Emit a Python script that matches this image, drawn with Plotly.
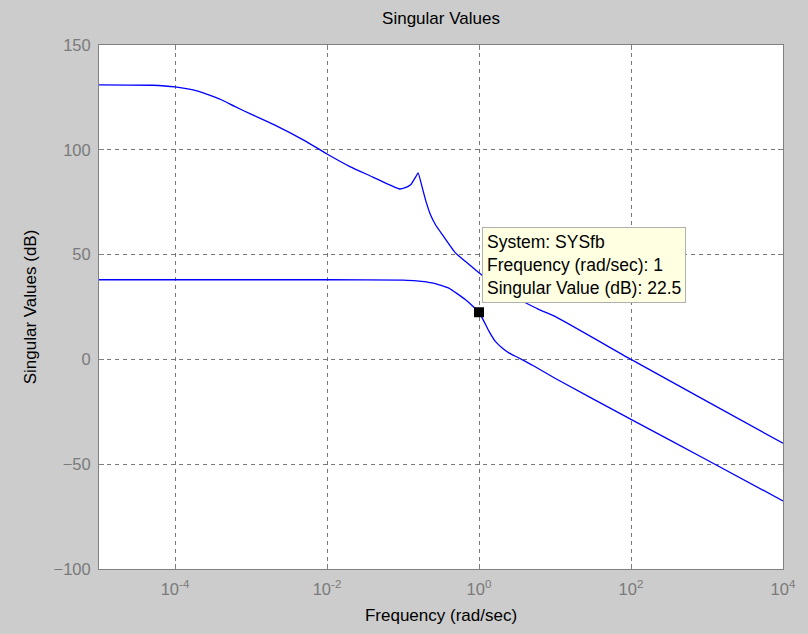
import plotly.graph_objects as go

# Singular values of SYSfb (frequency in rad/sec, magnitude in dB)
freq_upper = [1e-5, 5e-5, 1e-4, 2e-4, 4e-4, 6e-4, 1e-3, 2e-3, 5e-3, 1e-2, 2e-2,
              4e-2, 6e-2, 8e-2, 0.09, 0.105, 0.126, 0.148, 0.158, 0.18, 0.2,
              0.23, 0.27, 0.33, 0.49, 0.66, 1.0, 2.0, 6.0, 10.0, 100.0, 1000.0,
              10000.0]
sv_upper = [131, 130.8, 130, 128, 124, 120.8, 117, 112, 104.5, 98, 92,
            87, 84, 82, 81.3, 81.8, 83.3, 87.3, 89, 81.7, 75.5,
            69, 64, 59.5, 50.8, 46.8, 41.3, 33, 24, 20.5, 0, -20,
            -40]

freq_lower = [1e-5, 1e-3, 1e-2, 0.1, 0.15, 0.25, 0.4, 0.66, 1.0, 1.35, 1.63,
              2.0, 2.5, 3.3, 5.0, 10.0, 100.0, 1000.0, 10000.0]
sv_lower = [38, 38, 38, 37.8, 37.5, 36.4, 34, 28.6, 22.5, 13.5, 8.7,
            5.6, 3.0, 0.8, -2.7, -9, -28.6, -48, -67.5]

# Data tip
tip_freq = 1.0
tip_sv = 22.5

x_tickvals = [1e-4, 1e-2, 1e0, 1e2, 1e4]
x_ticktext = ["10<sup>-4</sup>", "10<sup>-2</sup>", "10<sup>0</sup>",
              "10<sup>2</sup>", "10<sup>4</sup>"]
y_tickvals = [-100, -50, 0, 50, 100, 150]

FONT = "Liberation Sans, Arial, sans-serif"
line_color = "#0000ff"
axis_gray = "#808080"

fig = go.Figure()
fig.add_trace(go.Scatter(x=freq_upper, y=sv_upper, mode="lines",
                         line=dict(color=line_color, width=1.3, shape="spline",
                                   smoothing=0.4)))
fig.add_trace(go.Scatter(x=freq_lower, y=sv_lower, mode="lines",
                         line=dict(color=line_color, width=1.3, shape="spline",
                                   smoothing=0.4)))
fig.add_trace(go.Scatter(x=[tip_freq], y=[tip_sv], mode="markers",
                         marker=dict(symbol="square", size=10, color="black")))

fig.add_annotation(
    x=0.035, y=27, xref="x", yref="y", xanchor="left", yanchor="bottom",
    text=(f"System: SYSfb<br>Frequency (rad/sec): {tip_freq:g}"
          f"<br>Singular Value (dB): {tip_sv}"),
    showarrow=False, align="left",
    font=dict(family=FONT, size=17.5, color="black"),
    bgcolor="#ffffe1", bordercolor="#b0b0b0", borderwidth=1, borderpad=4,
)

axis_common = dict(
    showline=True, linecolor=axis_gray, linewidth=1, mirror="ticks",
    ticks="inside", ticklen=5, tickcolor=axis_gray,
    showgrid=True, gridcolor="#777777", griddash="4px,4px", gridwidth=1,
    zeroline=False,
    tickfont=dict(family=FONT, size=16.5, color="#7a7a7a"),
)

fig.update_xaxes(
    type="log", range=[-5, 4], tickvals=x_tickvals, ticktext=x_ticktext,
    ticklabelstandoff=5,
    title=dict(text="Frequency (rad/sec)", standoff=12,
               font=dict(family=FONT, size=17, color="black")),
    **axis_common,
)
fig.update_yaxes(
    range=[-100, 150], tickvals=y_tickvals, ticklabelstandoff=4,
    title=dict(text="Singular Values (dB)", standoff=12,
               font=dict(family=FONT, size=17, color="black")),
    **axis_common,
)

fig.update_layout(
    width=808, height=634,
    margin=dict(l=99, r=23, t=45, b=64),
    paper_bgcolor="#cccccc", plot_bgcolor="white",
    showlegend=False,
    title=dict(text="Singular Values", x=0.5, xref="paper", y=1, yref="container",
               yanchor="top", pad=dict(t=12),
               font=dict(family=FONT, size=17, color="black")),
)

fig.write_html("out.html")
